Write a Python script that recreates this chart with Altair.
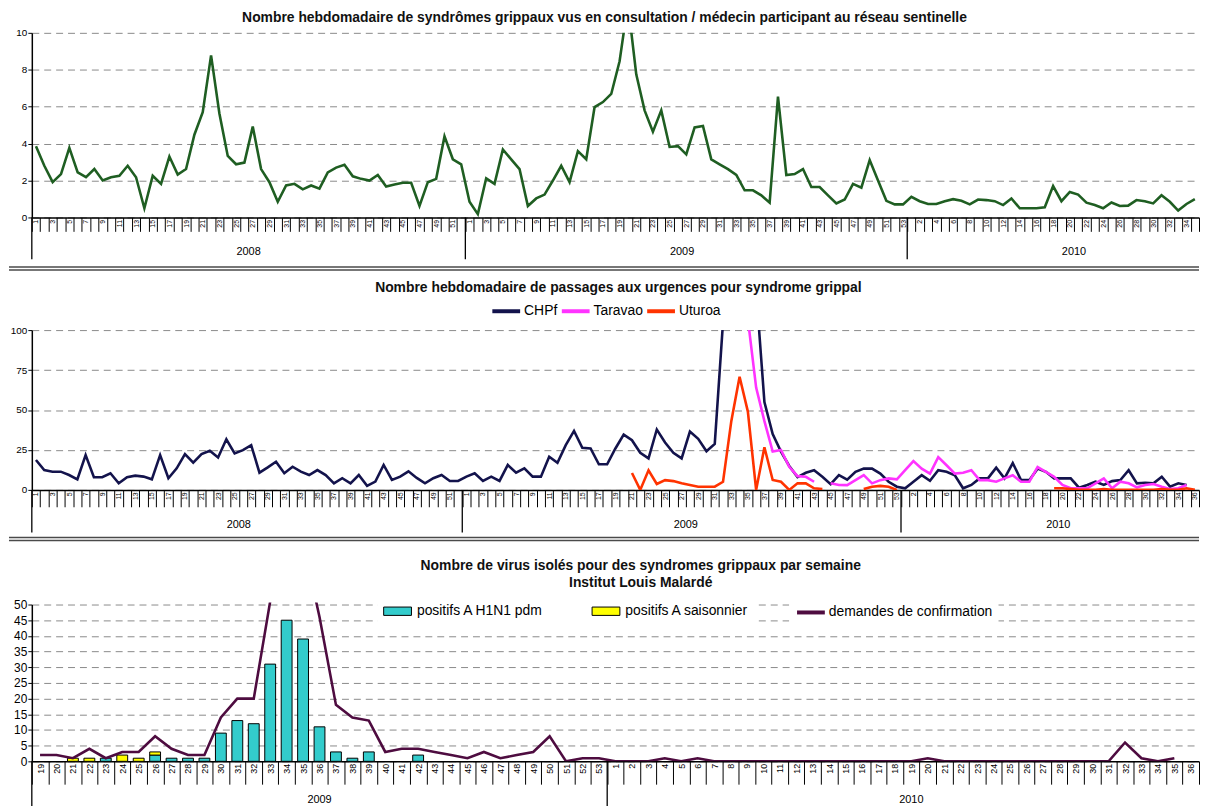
import altair as alt
import pandas as pd

FONT = "Liberation Sans"

# ---------------- Panel 1 : réseau sentinelle ----------------
P1_YEARS = [2008] * 52 + [2009] * 53 + [2010] * 35
P1_WEEKS = list(range(1, 53)) + list(range(1, 54)) + list(range(1, 36))
P1_VALUES = [
    3.86, 2.8, 1.91, 2.35, 3.77, 2.44, 2.18, 2.62, 2.0, 2.18,
    2.26, 2.8, 2.18, 0.5, 2.26, 1.82, 3.3, 2.32, 2.62, 4.48,
    5.7, 8.78, 5.63, 3.33, 2.88, 2.97, 4.92, 2.62, 1.91, 0.85,
    1.73, 1.82, 1.52, 1.73, 1.56, 2.44, 2.7, 2.85, 2.23, 2.09,
    2.0, 2.3, 1.68, 1.79, 1.88, 1.88, 0.62, 1.91, 2.09, 4.39,
    3.15, 2.88, 0.85, 0.18, 2.12, 1.82, 3.68, 3.15, 2.62, 0.62,
    1.03, 1.24, 2.0, 2.8, 1.91, 3.59, 3.15, 5.98, 6.25, 6.69,
    8.46, 11.6, 7.75, 5.8, 4.65, 5.8, 3.82, 3.86, 3.42, 4.88,
    4.96, 3.15, 2.88, 2.62, 2.3, 1.47, 1.47, 1.2, 0.8, 6.55,
    2.3, 2.35, 2.62, 1.65, 1.65, 1.2, 0.76, 0.97, 1.82, 1.61,
    3.11, 2.0, 0.9, 0.71, 0.71, 1.12, 0.88, 0.73, 0.73, 0.88,
    0.99, 0.9, 0.71, 0.97, 0.94, 0.88, 0.67, 1.03, 0.5, 0.5,
    0.5, 0.55, 1.7, 0.88, 1.38, 1.24, 0.8, 0.67, 0.5, 0.81,
    0.62, 0.64, 0.94, 0.88, 0.76, 1.2, 0.85, 0.37, 0.73, 0.99,
]

# ---------------- Panel 2 : passages aux urgences ----------------
P2_YEARS = [2008] * 52 + [2009] * 53 + [2010] * 36
P2_WEEKS = list(range(1, 53)) + list(range(1, 54)) + list(range(1, 37))
STATIONS = ["CHPf", "Taravao", "Uturoa"]
CHPF = [
    18.7, 12.4, 11.4, 11.4, 9.3, 6.6, 21.8, 7.9, 7.9, 10.4,
    4.1, 7.9, 8.9, 8.3, 6.6, 21.8, 7.3, 13.5, 22.4, 17.0,
    22.4, 24.5, 20.3, 31.7, 22.8, 24.9, 28.0, 10.8, 14.1, 17.6,
    10.4, 14.5, 11.4, 9.3, 12.4, 9.3, 4.1, 7.3, 4.1, 9.3,
    2.5, 5.2, 15.6, 6.2, 8.3, 11.6, 7.5, 4.1, 7.3, 9.3,
    5.6, 5.6, 8.3, 10.4, 5.6, 8.3, 5.6, 15.6, 10.8, 13.5,
    8.3, 8.3, 20.7, 17.0, 28.0, 36.9, 26.3, 25.9, 16.0, 16.0,
    25.9, 34.6, 31.1, 23.2, 19.7, 37.8, 29.7, 23.2, 19.7, 36.5,
    32.0, 24.2, 28.8, 105, 200, 240, 190, 125, 55, 35,
    24, 15, 8, 10.7, 12.3, 8.2, 3.6, 9.2, 6.4, 11.3,
    13.3, 13.3, 10.2, 5.1, 2.0, 1.0, 5.1, 9.2, 5.7, 12.3,
    11.3, 9.2, 1.0, 3.1, 7.2, 7.2, 13.9, 7.2, 16.8, 6.1,
    6.1, 13.3, 11.3, 7.2, 7.2, 7.2, 1.4, 3.1, 5.1, 3.1,
    5.5, 6.1, 12.3, 4.1, 4.5, 4.1, 8.2, 2.0, 4.1, 3.1,
    None,
]
TARAVAO = [None] * 86 + [
    107, 64, 43, 24, 25, 14.4, 8.6, 8.2, 5.1, None,
    4.1, 3.1, 3.0, 6.1, 9.2, 4.1, 6.1, 7.2, 6.6, 12.3,
    18.0, 13.3, 10.2, 20.5, 15.4, 10.2, 10.7, 12.3, 6.1, 6.1,
    5.1, 7.2, 9.2, 5.1, 5.1, 14.3, 11.3, 8.2, 3.1, 1.0,
    1.0, 1.0, 4.1, 7.2, 1.0, 5.1, 4.1, 1.6, 3.1, 3.7,
    2.0, 0.6, 1.0, 3.1, None,
]
UTUROA = [None] * 72 + [
    10.6, 0, 12.3, 3.7, 6.1, 5.5, 4.1, 3.1, 2.0, 2.0,
    2.0, 5.1, 43, 70.8, 49, 0, 26.7, 6.2, 5.1, 0,
    4.1, 4.1, 1.0, 0.5, None, None, None, None, 0.5, 2.0,
    2.5, 2.0, 0, None, None, None, None, None, None, None,
    None, None, None, None, None, None, None, None, None, None,
    None, 1, 1, 0.5, 0, 0, 0, 0.5, 0, 0,
    0, 0, 0, 0, 0.5, 0, 0, 1, 0,
]

# ---------------- Panel 3 : Institut Louis Malardé ----------------
P3_YEARS = [2009] * 35 + [2010] * 36
P3_WEEKS = list(range(19, 54)) + list(range(1, 37))
BAR_TYPES = ["positifs A H1N1 pdm", "positifs A saisonnier"]
H1N1 = [
    0, 0, 0, 0, 1, 0, 0, 2, 1, 1,
    1, 9, 13, 12, 31, 45, 39, 11, 3, 1,
    3, 0, 0, 2, 0, 0, 0, 0, 0, 0,
    0, 0, 0, 0, 0,
] + [0] * 36
SAISON = [0, 0, 1, 1, 0, 2, 1, 1] + [0] * 63
DEMANDES = [
    2, 2, 1, 4, 1, 3, 3, 8, 4, 2,
    2, 14, 20, 20, 51, 75, 70, 46, 18, 14,
    13, 3, 4, 4, 3, 2, 1, 3, 1, 2,
    3, 8, 0, 1, 1,
    0, 0, 0, 1, 0, 1, 0, 0, 0, 0,
    0, 0, 0, 0, 0, 0, 0, 0, 0, 1,
    0, 0, 0, 0, 0, 0, 0, 0, 0, 0,
    0, 6, 1, 0, 1, None,
]
LINE_NAME = "demandes de confirmation"

GREEN = "#1f5e22"
NAVY = "#13134c"
MAGENTA = "#ff33ff"
RED = "#ff3300"
PURPLE = "#4e0c40"
CYAN = "#33cccc"
YELLOW = "#ffff00"

W = 1176
H1, H2, H3 = 186, 161, 158
TOP3 = 2              # panel 3: small blank band above the 50 gridline
H3V = H3 + TOP3       # panel 3 view height
SPACING = 113.5


def keys_of(years, weeks):
    return [f"{y}-{w}" for y, w in zip(years, weeks)]


def xpos(keys, bp=None, axis=None):
    kw = {}
    if bp is not None:
        kw["bandPosition"] = bp
    if axis is not None:
        kw["axis"] = axis
    return alt.X("key:O", scale=alt.Scale(type="band", domain=keys, paddingInner=0, paddingOuter=0),
                 title=None, **kw)


def week_axis(shown, tick, font):
    arr = ",".join("'%s'" % k for k in shown)
    return alt.Axis(
        title=None,
        labelExpr=f"indexof([{arr}], datum.value) >= 0 ? split(datum.value, '-')[1] : ''",
        labelAngle=270, labelFontSize=font, labelColor="black", labelFont=FONT,
        labelPadding=-(tick - 2), labelOverlap=False,
        tickBand="extent", tickSize=tick, tickColor="black", tickWidth=1,
        domainColor="black", domainWidth=1.5, grid=False)


def y_axis(values, size):
    return alt.Axis(title=None, values=values, grid=True, gridDash=[7, 5], gridColor="#8a8a8a",
                    gridWidth=1, domainColor="black", domainWidth=1.5, tickColor="black",
                    tickSize=4, labelFontSize=size, labelColor="black", labelFont=FONT,
                    labelPadding=1)


def year_rules(keys, first_keys, H, length):
    d = pd.DataFrame({"key": first_keys})
    return alt.Chart(d).mark_rule(color="black", strokeWidth=1.3).encode(
        x=xpos(keys, 0), y=alt.value(H), y2=alt.value(H + length))


def year_label(keys, key, label, H, dy, bp):
    d = pd.DataFrame({"key": [key], "label": [label]})
    return alt.Chart(d).mark_text(font=FONT, fontSize=11, color="black").encode(
        x=xpos(keys, bp), y=alt.value(H + dy), text="label:N")


def separator(y):
    return alt.Chart(pd.DataFrame({"s": [0]})).mark_rule(color="#4a4a4a", strokeWidth=1.5).encode(
        x=alt.value(-23), x2=alt.value(W), y=alt.value(y))


def title(text, dx, offset):
    return alt.TitleParams(text=text, font=FONT, fontSize=14, fontWeight="bold", color="#111111",
                           anchor="middle", frame="group", dx=dx, offset=offset, lineHeight=17)


# ---------- panel 1 ----------
k1 = keys_of(P1_YEARS, P1_WEEKS)
df1 = pd.DataFrame({"key": k1, "idx": list(range(len(k1))), "value": P1_VALUES})
line1 = alt.Chart(df1).mark_line(color=GREEN, strokeWidth=2.6, clip=True).encode(
    x=xpos(k1, 0.5, week_axis(k1[0::2], 14, 7)),
    y=alt.Y("value:Q", scale=alt.Scale(domain=[0, 10], nice=False), axis=y_axis([0, 2, 4, 6, 8, 10], 10)),
    order="idx:Q")
p1 = alt.layer(
    line1,
    year_rules(k1, ["2008-1", "2009-1", "2010-1"], H1, 42),
    year_label(k1, "2008-27", "2008", H1, 35, 0),
    year_label(k1, "2009-27", "2009", H1, 35, 0),
    year_label(k1, "2010-21", "2010", H1, 35, 0),
    separator(H1 + 50), separator(H1 + 53),
).properties(width=W, height=H1, title=title(
    "Nombre hebdomadaire de syndrômes grippaux vus en consultation / médecin participant au réseau sentinelle",
    -11, 2.5))

# ---------- panel 2 ----------
k2 = keys_of(P2_YEARS, P2_WEEKS)
rows = []
for name, vals in zip(STATIONS, (CHPF, TARAVAO, UTUROA)):
    seg, prev = 0, False
    for i, (k, v) in enumerate(zip(k2, vals)):
        if v is None:
            prev = False
            continue
        if not prev:
            seg += 1
        rows.append({"key": k, "idx": i, "station": name, "seg": f"{name}{seg}", "value": v})
        prev = True
df2 = pd.DataFrame(rows)
line2 = alt.Chart(df2).mark_line(strokeWidth=2.6, clip=True).encode(
    x=xpos(k2, 0.5, week_axis(k2[0::2], 17, 7)),
    y=alt.Y("value:Q", scale=alt.Scale(domain=[0, 100], nice=False), axis=y_axis([0, 25, 50, 75, 100], 10)),
    color=alt.Color("station:N", scale=alt.Scale(domain=STATIONS, range=[NAVY, MAGENTA, RED]),
                    legend=alt.Legend(title=None, orient="none", legendX=462, legendY=-35,
                                      direction="horizontal", symbolType="stroke", symbolSize=784,
                                      symbolStrokeWidth=4, labelFontSize=14, labelFont=FONT,
                                      labelColor="black", labelOffset=2, columnPadding=-4)),
    detail="seg:N", order="idx:Q")
p2 = alt.layer(
    line2,
    year_rules(k2, ["2008-1", "2009-1", "2010-1"], H2, 43),
    year_label(k2, "2008-26", "2008", H2, 35, 0),
    year_label(k2, "2009-28", "2009", H2, 35, 0),
    year_label(k2, "2010-20", "2010", H2, 35, 0),
    separator(H2 + 48), separator(H2 + 51),
).properties(width=W, height=H2, title=title(
    "Nombre hebdomadaire de passages aux urgences pour syndrome grippal", 3, 0))

# ---------- panel 3 ----------
k3 = keys_of(P3_YEARS, P3_WEEKS)
brows = []
for i, k in enumerate(k3):
    if H1N1[i] > 0:
        brows.append({"key": k, "type": BAR_TYPES[0], "n": H1N1[i], "ord": 0})
    if SAISON[i] > 0:
        brows.append({"key": k, "type": BAR_TYPES[1], "n": SAISON[i], "ord": 1})
df3b = pd.DataFrame(brows)
df3l = pd.DataFrame([{"key": k, "idx": i, "n": v, "s": LINE_NAME}
                     for i, (k, v) in enumerate(zip(k3, DEMANDES)) if v is not None])

yax3 = y_axis(list(range(0, 55, 5)), 12)
xax3 = week_axis(k3, 23, 9)
yscale3 = alt.Scale(domain=[0, 50], nice=False, range=[H3V, TOP3])

bars3 = alt.Chart(df3b).mark_bar(stroke="black", strokeWidth=1, width=alt.RelativeBandSize(0.66)).encode(
    x=xpos(k3, None, xax3),
    y=alt.Y("n:Q", stack="zero", scale=yscale3, axis=yax3),
    fill=alt.Fill("type:N", scale=alt.Scale(domain=BAR_TYPES, range=[CYAN, YELLOW]),
                  legend=alt.Legend(title=None, orient="none", legendX=348, legendY=-12,
                                    direction="horizontal", symbolType="M-1,-0.3H1V0.3H-1Z",
                                    symbolSize=784, symbolStrokeColor="black", symbolStrokeWidth=1,
                                    labelFontSize=14, labelFont=FONT, labelColor="black",
                                    labelOffset=5, columnPadding=46, fillColor="white", padding=6,
                                    labelLimit=300)),
    order=alt.Order("ord:Q"))
line3 = alt.Chart(df3l).mark_line(strokeWidth=2.6, clip=True).encode(
    x=xpos(k3, 0.5, xax3),
    y=alt.Y("n:Q", scale=yscale3, axis=yax3),
    stroke=alt.Stroke("s:N", scale=alt.Scale(domain=[LINE_NAME], range=[PURPLE]),
                      legend=alt.Legend(title=None, orient="none", legendX=763, legendY=-12,
                                        direction="horizontal", symbolType="stroke", symbolSize=784,
                                        symbolStrokeWidth=4, labelFontSize=14, labelFont=FONT,
                                        labelColor="black", labelOffset=2, fillColor="white",
                                        padding=6, labelLimit=300)),
    order="idx:Q")
p3 = alt.layer(
    bars3, line3,
    year_rules(k3, ["2009-19", "2010-1"], H3V, 45),
    year_label(k3, "2009-36", "2009", H3V, 39, 0.5),
    year_label(k3, "2010-19", "2010", H3V, 39, 0.5),
).properties(width=W, height=H3V, title=title(
    ["Nombre de virus isolés pour des syndromes grippaux par semaine", "Institut Louis Malardé"], 25.5, 1))

chart = alt.vconcat(p1, p2, p3, spacing=SPACING, bounds="flush").resolve_legend(
    color="independent", fill="independent", stroke="independent").properties(padding=0).configure(
    font=FONT).configure_view(stroke=None)

chart.save("out.html", embed_options={"renderer": "svg", "actions": False})
